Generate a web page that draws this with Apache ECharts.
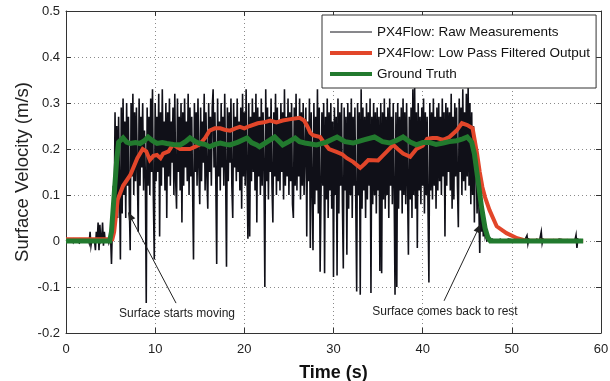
<!DOCTYPE html>
<html>
<head>
<meta charset="utf-8">
<script src="https://cdn.jsdelivr.net/npm/echarts@6/dist/echarts.min.js"></script>
<style>
html,body{margin:0;padding:0;background:#fff;}
#c{width:610px;height:381px;}
</style>
</head>
<body>
<div id="c"></div>
<script>
// ---------- DATA ----------
const seriesNames = ['PX4Flow: Raw Measurements', 'PX4Flow: Low Pass Filtered Output', 'Ground Truth'];
const xTicks = [0, 10, 20, 30, 40, 50, 60];
const yTicks = [-0.2, -0.1, 0, 0.1, 0.2, 0.3, 0.4, 0.5];

// raw measurements, sampled every 0.1 s starting at t = 0
const rawStart = 0;
const rawStep = 0.1;
const rawValues = [
  0,.004,0,.003,0,0,.004,0,-.003,.004,
  0,.004,0,0,.003,-.004,.004,0,.003,0,
  .004,0,0,.003,0,.004,-.004,.02,-.01,.004,
  0,.004,0,-.02,.02,0,.04,-.02,.035,0,
  .005,.04,-.01,.02,0,.004,0,.004,-.004,.004,
  .01,-.05,.03,.12,.05,.28,.08,.25,.05,.27,
  .12,-.04,.29,.06,.31,.10,.26,.05,.30,.12,
  .27,.08,-.02,.30,.14,.32,.10,.28,.13,.29,
  .15,.02,.31,.12,.27,.16,.30,.11,.24,.14,
  -.135,.29,.12,.27,.10,.31,.15,.33,.09,-.04,
  .30,.13,.27,.15,.32,.01,.28,.12,.33,.16,
  .26,.11,.30,.05,.28,.14,.31,.12,.26,.17,
  .29,.10,.32,.13,.07,.31,.15,.27,.11,.30,
  .04,.28,.12,.31,.16,.26,.13,.32,.10,.29,
  .14,.27,.11,-.04,.30,.15,.28,.12,.31,.16,
  .08,.29,.13,.26,.17,.32,.11,.28,.14,.07,
  .30,.15,.27,.12,.29,.33,.16,.28,.13,-.05,
  .31,.14,.26,.11,.30,.16,.27,.12,.32,.15,
  -.056,.29,.13,.28,.17,.31,.12,.05,.30,.16,
  .27,.13,.31,.15,.26,.11,.29,.07,.32,.14,
  .28,.12,.33,.15,.005,.30,.01,.27,.13,.31,
  .15,.28,.11,.32,.04,.29,.14,.27,.10,.31,
  .12,.28,.16,-.10,.33,.13,.29,.09,.27,.15,
  .31,.12,.04,.28,.14,.32,.10,.29,.13,.26,
  .11,.30,.15,.28,.09,.33,.12,.27,.14,.31,
  .10,.28,.13,.30,.08,.05,.29,.12,.32,.11,
  .27,.14,.31,.09,.28,.12,.30,.10,.10,.29,
  .01,.26,.13,.31,-.015,.28,.12,-.02,.30,.08,
  .27,.11,.33,.06,.29,-.067,.10,.28,.12,.30,
  -.07,.27,.09,.31,.05,.28,.11,.30,.07,.26,
  -.078,.29,.10,.27,-.075,.31,.06,.28,.12,.30,
  .08,-.06,.29,.11,.27,-.03,.30,.07,.28,.10,
  .31,.05,.27,.12,.29,.08,-.11,.30,.10,.28,
  -.117,.33,.07,.29,.11,.27,.05,.30,.09,.28,
  .12,.31,-.113,.27,.08,.30,.10,.28,.06,.29,
  .11,.27,-.065,.30,-.07,.28,.09,.31,.07,.27,
  .10,.29,.05,.31,.12,.27,.08,.30,.11,-.117,
  .28,-.10,.30,.07,.27,.11,.29,.06,.31,.10,
  .28,.08,.30,.12,-.03,.27,.09,.29,.05,.33,
  .10,.335,.07,.28,-.015,.30,.11,.27,.08,.29,
  .12,.31,.06,.28,.10,.27,.07,-.09,.30,.11,
  .28,.09,.31,.12,.27,.07,.29,.11,.30,.13,
  .27,.10,.31,.14,.28,.01,.30,.12,.29,.15,
  .28,.11,.32,.07,.27,.09,.30,.14,.29,.12,
  .03,.31,.15,.29,.10,.33,.13,.28,.11,.32,
  .14,.335,.12,.30,.08,.28,.10,.25,.04,.22,
  .18,.06,.14,.08,-.026,.10,.02,.06,.01,.03,
  .01,.02,0,.004,0,.003,0,0,.004,0,
  .003,0,.004,0,0,.003,0,.004,0,.003,
  0,.004,0,0,.003,0,.004,0,0,.003,
  0,.004,0,.003,0,0,.004,0,.003,0,
  .004,0,0,.003,0,.004,0,.012,-.006,.004,
  0,.003,0,0,.004,0,.003,0,.004,0,
  .003,0,.004,.02,-.005,.004,0,.003,0,0,
  .004,0,.003,0,0,.004,0,.003,0,.004,
  0,.003,0,.004,0,0,.003,0,.004,0,
  .004,0,.003,0,.004,0,0,.003,0,.004,
  0,.004,.013,-.015,.004,0,.003,0,.004,0
];

// low pass filtered output
const lpTime = [0,5.2,5.4,5.8,6.4,7.2,8.0,8.6,9.0,9.4,9.8,10.2,10.6,10.9,11.5,12.0,12.4,12.8,13.4,13.9,14.5,15.0,15.6,16.1,16.7,17.3,17.8,18.4,19.0,19.5,20.0,20.6,21.5,22.2,22.9,23.6,24.3,25.2,26.2,26.7,27.1,27.4,27.7,28.5,29.0,29.5,30.4,31.0,31.5,32.2,33.0,33.5,33.9,35.0,35.5,36.0,36.7,37.2,37.8,38.6,39.3,40.0,40.5,41.1,41.6,42.3,43.0,43.8,44.4,45.0,45.6,46.1,46.4,46.7,47.0,47.5,48.3,49.4,50.6,51.5,58.0];
const lpValue = [0.004,0.004,0.02,0.09,0.12,0.143,0.18,0.2,0.195,0.176,0.185,0.187,0.18,0.19,0.195,0.21,0.205,0.2,0.2,0.2,0.205,0.21,0.224,0.24,0.245,0.245,0.242,0.24,0.245,0.248,0.245,0.25,0.256,0.258,0.262,0.258,0.262,0.265,0.268,0.262,0.248,0.235,0.23,0.226,0.212,0.2,0.193,0.188,0.18,0.172,0.159,0.168,0.176,0.175,0.185,0.195,0.209,0.2,0.19,0.183,0.2,0.207,0.222,0.224,0.224,0.22,0.226,0.24,0.256,0.252,0.245,0.19,0.15,0.117,0.095,0.067,0.032,0.017,0.006,0.001,0];

// ground truth
const gtTime = [0,4.9,5.1,5.4,5.7,5.9,6.4,6.8,7.2,7.8,8.3,8.8,9.2,9.7,10.2,10.8,11.3,12.0,12.8,13.4,13.9,14.5,15.0,15.6,16.1,16.7,17.3,17.9,18.4,19.3,20.3,20.8,21.4,21.7,22.5,23.4,24.3,25.0,25.7,26.2,26.8,28.1,29.2,30.4,31.3,32.2,33.4,34.6,35.5,36.3,37.0,37.8,38.6,39.3,40.0,40.8,41.5,42.3,43.0,43.8,44.5,45.0,45.5,45.8,46.2,46.6,47.0,47.3,47.6,58.0];
const gtValue = [0,0,0.02,0.1,0.18,0.215,0.224,0.215,0.212,0.214,0.212,0.218,0.226,0.218,0.212,0.214,0.212,0.21,0.209,0.216,0.224,0.216,0.212,0.21,0.205,0.21,0.213,0.21,0.209,0.215,0.224,0.214,0.209,0.205,0.215,0.226,0.209,0.216,0.224,0.216,0.213,0.209,0.215,0.226,0.216,0.213,0.22,0.226,0.216,0.213,0.218,0.226,0.215,0.209,0.214,0.214,0.21,0.213,0.216,0.218,0.222,0.226,0.215,0.19,0.133,0.074,0.028,0.008,0,0];

// annotations (data coordinates)
const annTexts = ['Surface starts moving', 'Surface comes back to rest'];
const annTextPos = [[12.45, -0.157], [42.5, -0.154]];
const annArrowFrom = [[12.34, -0.135], [42.4, -0.130]];
const annArrowTo = [[6.95, 0.063], [46.5, 0.037]];

// ---------- BUILD ----------
const rawData = rawValues.map((v, i) => [+(rawStart + i * rawStep).toFixed(2), v]);
const lpData = lpTime.map((t, i) => [t, lpValue[i]]);
const gtData = gtTime.map((t, i) => [t, gtValue[i]]);

const FONT = '"Liberation Sans", Arial, sans-serif';
const AX = '#333';
const gridLine = {show: true, lineStyle: {color: '#8a8a8a', width: 1, type: [1, 3]}};
const colors = ['#101018', '#e2462a', '#227a2e'];
const widths = [1.6, 4, 5];
const legendWidths = [1, 4, 4];
const hidden = {color: 'rgba(0,0,0,0)', borderColor: 'rgba(0,0,0,0)', borderWidth: 0, opacity: 0};

const chart = echarts.init(document.getElementById('c'), null, {renderer: 'canvas'});
chart.setOption({
  animation: false,
  backgroundColor: '#fff',
  grid: {left: 66, right: 9, top: 11, bottom: 48, containLabel: false, outerBoundsMode: 'none'},
  legend: {
    orient: 'vertical', left: 322, top: 15,
    padding: [10, 6, 7, 6], itemGap: 7, itemWidth: 42, itemHeight: 14,
    backgroundColor: '#fff', borderColor: '#333', borderWidth: 1, borderRadius: 0,
    textStyle: {fontFamily: FONT, fontSize: 13.5, color: '#111'},
    data: seriesNames.map((n, i) => ({
      name: n, itemStyle: hidden,
      lineStyle: {color: colors[i], width: legendWidths[i], opacity: 1}
    })),
    z: 20
  },
  xAxis: [{
    type: 'value', min: xTicks[0], max: xTicks[xTicks.length - 1], interval: 10,
    name: 'Time (s)', nameLocation: 'middle', nameGap: 31, nameMoveOverlap: false,
    nameTextStyle: {fontFamily: FONT, fontSize: 18, fontWeight: 'bold', color: '#111'},
    axisLine: {show: true, onZero: false, lineStyle: {color: AX, width: 1}},
    axisTick: {show: true, inside: true, length: 5, lineStyle: {color: AX}},
    axisLabel: {fontFamily: FONT, fontSize: 13, color: '#222', margin: 10},
    splitLine: gridLine
  }, {
    type: 'value', position: 'top', min: 0, max: 60, interval: 10,
    axisLine: {show: true, onZero: false, lineStyle: {color: AX, width: 1}},
    axisTick: {show: true, inside: true, length: 5, lineStyle: {color: AX}},
    axisLabel: {show: false}, splitLine: {show: false}
  }],
  yAxis: [{
    type: 'value', min: yTicks[0], max: yTicks[yTicks.length - 1], interval: 0.1,
    name: 'Surface Velocity (m/s)', nameLocation: 'middle', nameGap: 34, nameMoveOverlap: false,
    nameTextStyle: {fontFamily: FONT, fontSize: 18.5, color: '#222'},
    axisLine: {show: true, onZero: false, lineStyle: {color: AX, width: 1}},
    axisTick: {show: true, inside: true, length: 5, lineStyle: {color: AX}},
    axisLabel: {fontFamily: FONT, fontSize: 13, color: '#222', margin: 6,
      formatter: v => Math.abs(v) < 1e-9 ? '0' : v.toFixed(1)},
    splitLine: gridLine
  }, {
    type: 'value', position: 'right', min: -0.2, max: 0.5, interval: 0.1,
    axisLine: {show: true, onZero: false, lineStyle: {color: AX, width: 1}},
    axisTick: {show: true, inside: true, length: 5, lineStyle: {color: AX}},
    axisLabel: {show: false}, splitLine: {show: false}
  }],
  series: seriesNames.map((n, i) => ({
    name: n, type: 'line', symbol: 'none',
    data: [rawData, lpData, gtData][i],
    lineStyle: {color: colors[i], width: widths[i], join: 'miter'},
    itemStyle: {color: colors[i]}, z: 2 + i
  }))
});

// annotations positioned through the chart's own coordinate conversion
const g = [];
for (let i = 0; i < annTexts.length; i++) {
  const tp = chart.convertToPixel({gridIndex: 0}, annTextPos[i]);
  const a = chart.convertToPixel({gridIndex: 0}, annArrowFrom[i]);
  const b = chart.convertToPixel({gridIndex: 0}, annArrowTo[i]);
  const dx = b[0] - a[0], dy = b[1] - a[1];
  const L = Math.sqrt(dx * dx + dy * dy);
  const ux = dx / L, uy = dy / L;
  const hl = 9, hw = 3.5;
  const bx = b[0] - ux * hl, by = b[1] - uy * hl;
  g.push({type: 'line', z: 30, shape: {x1: a[0], y1: a[1], x2: bx, y2: by},
          style: {stroke: '#222', lineWidth: 1}});
  g.push({type: 'polygon', z: 30, shape: {points: [[b[0], b[1]], [bx - uy * hw, by + ux * hw], [bx + uy * hw, by - ux * hw]]},
          style: {fill: '#222'}});
  g.push({type: 'text', z: 30, x: tp[0], y: tp[1],
          style: {text: annTexts[i], font: '12px ' + FONT, fill: '#222', align: 'center', verticalAlign: 'middle'}});
}
chart.setOption({graphic: g});
</script>
</body>
</html>
